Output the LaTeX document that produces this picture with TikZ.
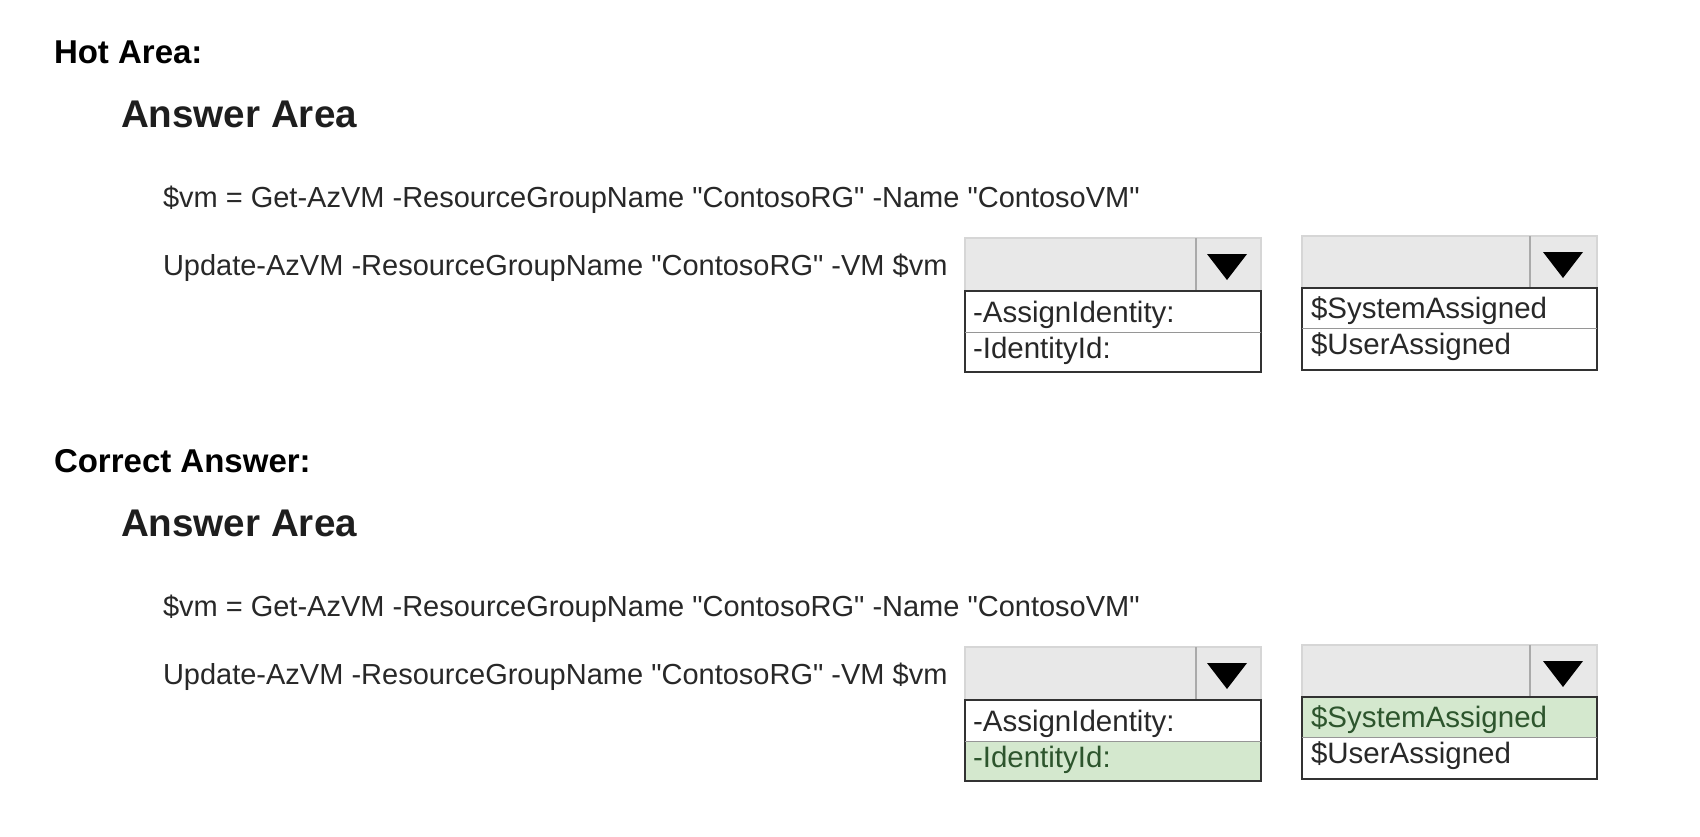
\documentclass[tikz,border=0pt]{standalone}
\usepackage{fontspec}
\setmainfont{Liberation Sans}[Ligatures=TeXOff]
\definecolor{hdrgray}{RGB}{232,232,232}
\definecolor{hdredge}{RGB}{214,214,214}
\definecolor{sepgray}{RGB}{170,170,170}
\definecolor{boxedge}{RGB}{50,50,50}
\definecolor{divgray}{RGB}{150,150,150}
\definecolor{codegray}{RGB}{40,40,40}
\definecolor{areagray}{RGB}{30,30,30}
\definecolor{okfill}{RGB}{212,232,206}
\definecolor{oktext}{RGB}{45,85,45}
\begin{document}
\begin{tikzpicture}[x=1pt,y=-1pt,
  every node/.style={inner sep=0pt,outer sep=0pt},
  titletext/.style={anchor=base west,font=\fontsize{33}{38}\selectfont\bfseries},
  areatext/.style={anchor=base west,font=\fontsize{38.6}{44}\selectfont\bfseries,text=areagray},
  codetext/.style={anchor=base west,font=\fontsize{29}{34}\selectfont,text=codegray},
  opttext/.style={anchor=base west,font=\fontsize{29.5}{34}\selectfont,text=codegray},
  oktxt/.style={opttext,text=oktext},
  hdrbox/.style={fill=hdrgray,draw=hdredge,line width=1.2pt},
  sepline/.style={draw=sepgray,line width=1.2pt},
  listbox/.style={draw=boxedge,line width=1.6pt},
  divline/.style={draw=divgray,line width=1pt},
  arrowtri/.style={fill=black,draw=none}]
\useasboundingbox[fill=white] (0,0) rectangle (1700,836);

% ---------- Hot Area ----------
\node[titletext] (hot) at (54,63) {Hot Area:};
\node[areatext] (area1) at (121,127) {Answer Area};
\node[codetext] (code1a) at (163,207) {\$vm = Get-AzVM -ResourceGroupName "ContosoRG" -Name "ContosoVM"};
\node[codetext] (code1b) at (163,275) {Update-AzVM -ResourceGroupName "ContosoRG" -VM \$vm};

% dropdown 1
\draw[hdrbox] (965,238) rectangle (1261,291);
\draw[sepline] (1196,238) -- (1196,291);
\fill[arrowtri] (1207,254) -- (1247,254) -- (1227,280) -- cycle;
\draw[listbox] (965,291) rectangle (1261,372);
\draw[divline] (965,332) -- (1261,332);
\node[opttext] (o1a) at (973,322) {-AssignIdentity:};
\node[opttext] (o1b) at (973,358) {-IdentityId:};

% dropdown 2
\draw[hdrbox] (1302,236) rectangle (1597,288);
\draw[sepline] (1530,236) -- (1530,288);
\fill[arrowtri] (1543,252) -- (1583,252) -- (1563,278) -- cycle;
\draw[listbox] (1302,288) rectangle (1597,370);
\draw[divline] (1302,328) -- (1597,328);
\node[opttext] (o2a) at (1311,318) {\$SystemAssigned};
\node[opttext] (o2b) at (1311,354) {\$UserAssigned};

% ---------- Correct Answer ----------
\begin{scope}[shift={(0,409)}]
\node[titletext] (corr) at (54,63) {Correct Answer:};
\node[areatext] (area2) at (121,127) {Answer Area};
\node[codetext] (code2a) at (163,207) {\$vm = Get-AzVM -ResourceGroupName "ContosoRG" -Name "ContosoVM"};
\node[codetext] (code2b) at (163,275) {Update-AzVM -ResourceGroupName "ContosoRG" -VM \$vm};

% dropdown 1
\draw[hdrbox] (965,238) rectangle (1261,291);
\draw[sepline] (1196,238) -- (1196,291);
\fill[arrowtri] (1207,254) -- (1247,254) -- (1227,280) -- cycle;
\fill[okfill] (965,332) rectangle (1261,372);
\draw[listbox] (965,291) rectangle (1261,372);
\draw[divline] (965,332) -- (1261,332);
\node[opttext] (p1a) at (973,322) {-AssignIdentity:};
\node[oktxt] (p1b) at (973,358) {-IdentityId:};

% dropdown 2
\draw[hdrbox] (1302,236) rectangle (1597,288);
\draw[sepline] (1530,236) -- (1530,288);
\fill[arrowtri] (1543,252) -- (1583,252) -- (1563,278) -- cycle;
\fill[okfill] (1302,288) rectangle (1597,328);
\draw[listbox] (1302,288) rectangle (1597,370);
\draw[divline] (1302,328) -- (1597,328);
\node[oktxt] (p2a) at (1311,318) {\$SystemAssigned};
\node[opttext] (p2b) at (1311,354) {\$UserAssigned};
\end{scope}
\end{tikzpicture}
\end{document}
